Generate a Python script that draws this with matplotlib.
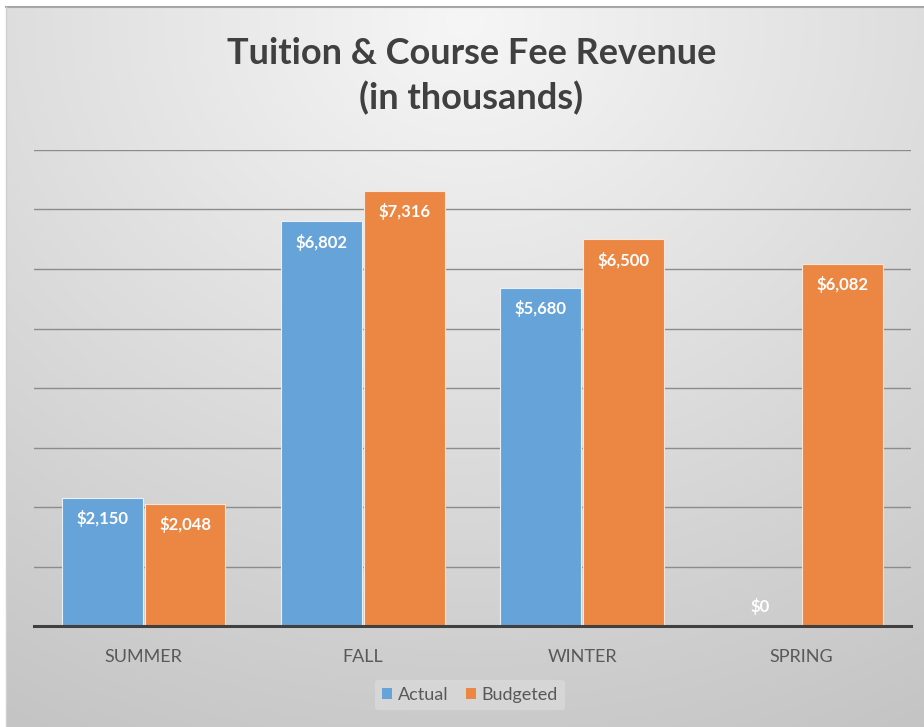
import numpy as np
import matplotlib
matplotlib.use("Agg")
import matplotlib.pyplot as plt

categories = ["SUMMER", "FALL", "WINTER", "SPRING"]
actual = [2150, 6802, 5680, 0]
budgeted = [2048, 7316, 6500, 6082]
series_names = ["Actual", "Budgeted"]
title = "Tuition & Course Fee Revenue\n(in thousands)"

FONT = ["Lato", "DejaVu Sans"]
plt.rcParams["font.family"] = FONT

W, H = 924, 727
fig = plt.figure(figsize=(W / 100, H / 100), dpi=100, facecolor="white")

# gradient background
bg = fig.add_axes([0.006, 0.0, 0.994, 0.991])
bg.set_axis_off()
yy, xx = np.mgrid[0:1:300j, 0:1:300j]
d = np.sqrt(((xx - 0.5) * 1.1) ** 2 + (yy - 0.02) ** 2)
val = 0.965 - 0.21 * np.clip(d, 0, 1.2) / 1.2
img = np.dstack([val, val, val])
bg.imshow(img, extent=[0, 1, 0, 1], aspect="auto", origin="upper")
bg.set_xlim(0, 1)
bg.set_ylim(0, 1)
bg.plot([0, 1], [1, 1], color="#a6a6a6", lw=1.5, transform=bg.transAxes, clip_on=False)
bg.plot([0, 0], [0, 1], color="#d0d0d0", lw=1, transform=bg.transAxes, clip_on=False)

ax = fig.add_axes([34 / W, 1 - 626 / H, (911 - 34) / W, (626 - 150) / H])
ax.patch.set_alpha(0)

x = np.arange(len(categories))
bw = 0.368
gap = 0.005
blue = "#66A3D9"
orange = "#EC8643"
b1 = ax.bar(x - bw / 2 - gap, actual, bw, color=blue, edgecolor="#e8f0f8", linewidth=0.8,
            label=series_names[0], zorder=3)
b2 = ax.bar(x + bw / 2 + gap, budgeted, bw, color=orange, edgecolor="#f8e6da", linewidth=0.8,
            label=series_names[1], zorder=3)

ax.set_ylim(0, 8000)
ax.set_xlim(-0.5, len(categories) - 0.5)
ax.set_yticks(np.arange(0, 8001, 1000))
ax.yaxis.grid(True, color="#8c8c8c", lw=1.0, zorder=0)
ax.tick_params(axis="y", left=False, labelleft=False)
ax.tick_params(axis="x", bottom=False, labelsize=13, labelcolor="#595959", pad=13)
ax.set_xticks(x)
ax.set_xticklabels(categories)
for s in ["top", "right", "left"]:
    ax.spines[s].set_visible(False)
ax.spines["bottom"].set_color("#404040")
ax.spines["bottom"].set_linewidth(2.2)
ax.spines["bottom"].set_zorder(4)

for bars, vals in [(b1, actual), (b2, budgeted)]:
    for rect, v in zip(bars, vals):
        cx = rect.get_x() + rect.get_width() / 2
        off = -15 if v > 0 else 14
        ax.annotate(f"${v:,.0f}", (cx, v), xytext=(0, off), textcoords="offset points",
                    ha="center", va="center", color="white", fontsize=12,
                    fontweight="bold", zorder=5)

fig.text(0.51, 1 - 76 / H, title, ha="center", va="center", fontsize=26,
         fontweight="bold", color="#404040", linespacing=1.4)

leg = fig.legend(handles=[b1, b2], labels=series_names, loc="center",
                 bbox_to_anchor=(470 / W, 1 - 695 / H), ncol=2, frameon=True,
                 fontsize=13, handlelength=0.55, handleheight=0.55, handletextpad=0.3,
                 columnspacing=1.0, borderpad=0.4)
leg.get_frame().set_facecolor("#dedede")
leg.get_frame().set_edgecolor("none")
leg.get_frame().set_alpha(0.6)
for t in leg.get_texts():
    t.set_color("#595959")
for h in leg.legend_handles:
    h.set_edgecolor("none")

fig.savefig("out.png", dpi=100, facecolor="white")
